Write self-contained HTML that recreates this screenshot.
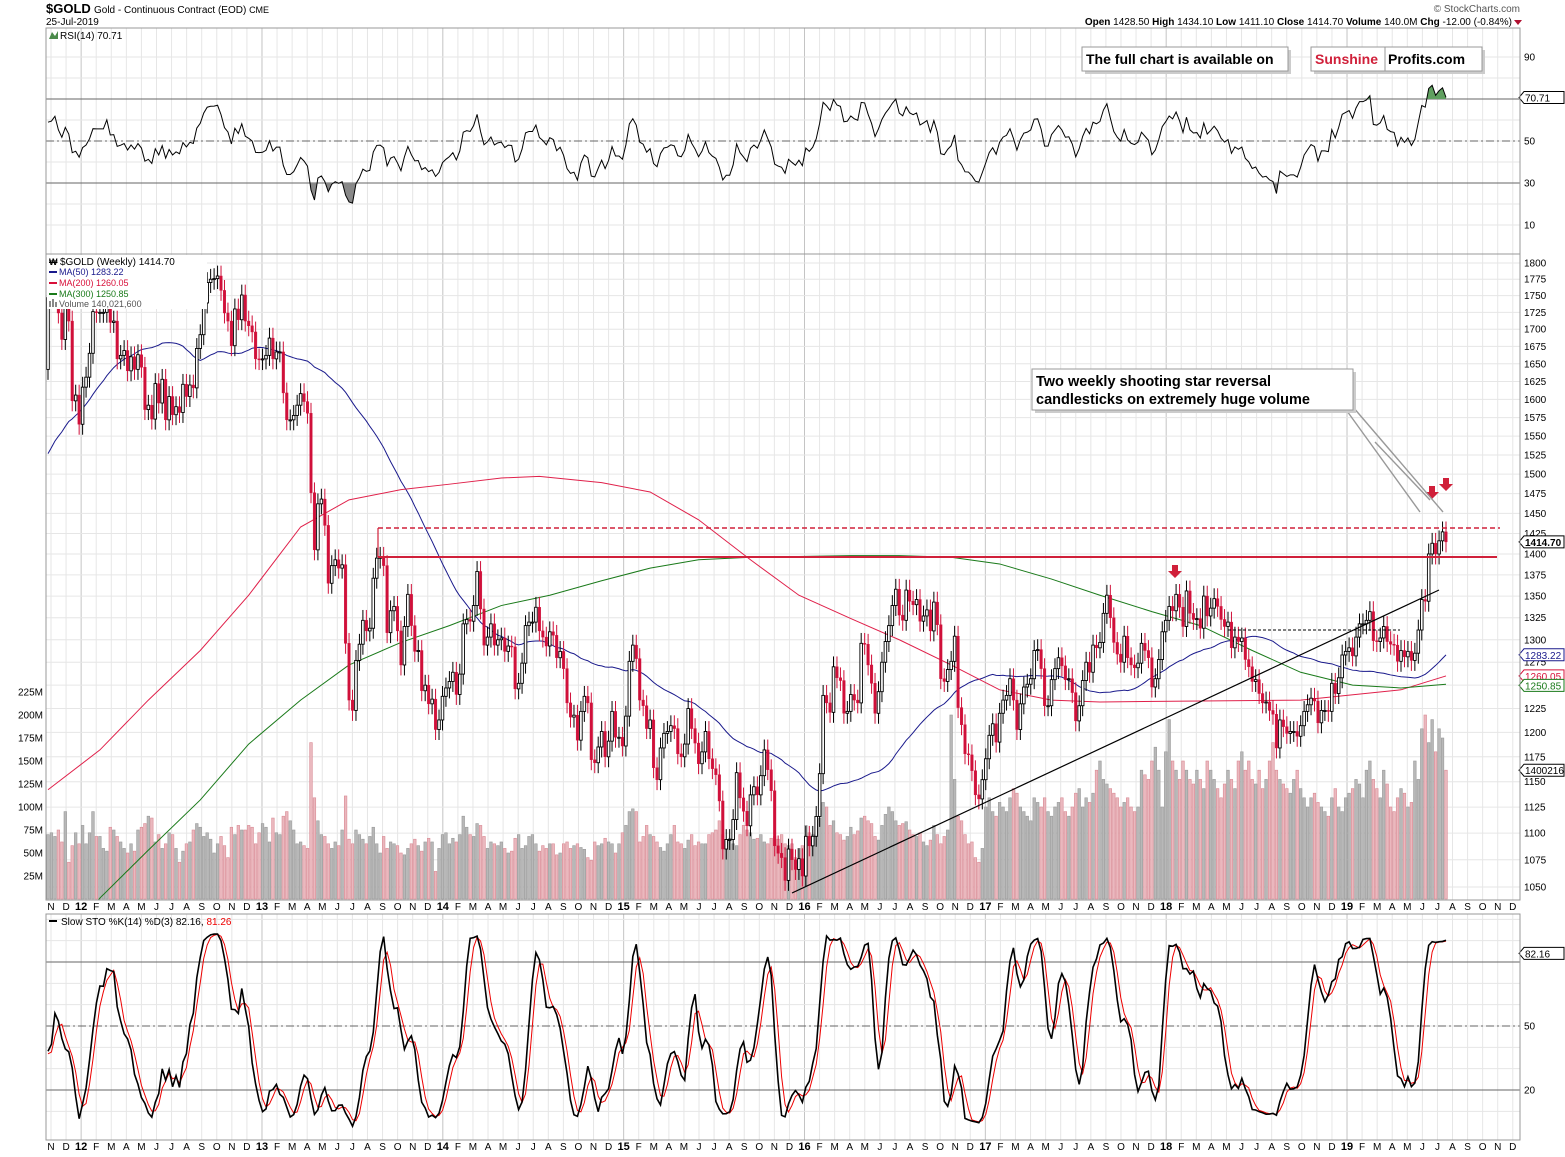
<!DOCTYPE html>
<html><head><meta charset="utf-8"><title>Gold weekly</title>
<style>body{margin:0;background:#fff}svg{display:block;font-family:"Liberation Sans",sans-serif}</style>
</head><body>
<svg id="c" width="1565" height="1157" xmlns="http://www.w3.org/2000/svg">
<defs>
<clipPath id="mainClip"><rect x="46" y="254" width="1474" height="646"/></clipPath>
<clipPath id="rsiClip"><rect x="46" y="28" width="1474" height="226"/></clipPath>
<clipPath id="stoClip"><rect x="46" y="914" width="1474" height="226"/></clipPath>
</defs>
<g>
<text x="46" y="13" font-size="13" font-weight="bold">$GOLD</text>
<text x="94" y="13" font-size="10">Gold - Continuous Contract (EOD) <tspan font-size="9">CME</tspan></text>
<text x="46" y="25" font-size="10">25-Jul-2019</text>
<text x="1520" y="12" font-size="10" fill="#555" text-anchor="end">© StockCharts.com</text>
<text x="1512" y="25" font-size="10" text-anchor="end"><tspan font-weight="bold">Open</tspan> 1428.50 <tspan font-weight="bold">High</tspan> 1434.10 <tspan font-weight="bold">Low</tspan> 1411.10 <tspan font-weight="bold">Close</tspan> 1414.70 <tspan font-weight="bold">Volume</tspan> 140.0M <tspan font-weight="bold">Chg</tspan> -12.00 (-0.84%)</text>
<path d="M1514,20 L1522,20 L1518,25 Z" fill="#b01030"/>
</g>
<g id="grid"></g>
<g id="vol" clip-path="url(#mainClip)"></g>
<g id="ma" clip-path="url(#mainClip)"></g>
<g id="candles" clip-path="url(#mainClip)"></g>
<g id="rsi" clip-path="url(#rsiClip)"></g>
<g id="sto" clip-path="url(#stoClip)"></g>
<g id="annot"></g>
<g id="frames" fill="none" stroke="#999">
<rect x="46" y="28" width="1474" height="226"/>
<rect x="46" y="254" width="1474" height="646"/>
<rect x="46" y="914" width="1474" height="226"/>
</g>
<g font-size="10">
<text x="60" y="39">RSI(14) 70.71</text>
<path d="M49,39 L52,32 L55,36 L58,31 L58,39 Z" fill="#4a8a4a"/>
<rect x="47" y="255" width="160" height="54" fill="#fff"/>
<text x="60" y="265">$GOLD (Weekly) 1414.70</text>
<text x="49" y="265" font-size="9" font-weight="bold">₩</text>
<line x1="49" y1="272" x2="57" y2="272" stroke="#1a1a8c" stroke-width="2"/>
<text x="59" y="275" font-size="9" fill="#1a1a8c">MA(50) 1283.22</text>
<line x1="49" y1="283" x2="57" y2="283" stroke="#d8103a" stroke-width="2"/>
<text x="59" y="286" font-size="9" fill="#d8103a">MA(200) 1260.05</text>
<line x1="49" y1="294" x2="57" y2="294" stroke="#1a7a1a" stroke-width="2"/>
<text x="59" y="297" font-size="9" fill="#1a7a1a">MA(300) 1250.85</text>
<text x="59" y="307" font-size="9" fill="#555">Volume 140,021,600</text>
<rect x="49" y="301" width="2" height="6" fill="#888"/><rect x="52" y="299" width="2" height="8" fill="#888"/><rect x="55" y="302" width="2" height="5" fill="#888"/>
<line x1="49" y1="921" x2="57" y2="921" stroke="#000" stroke-width="2"/>
<text x="61" y="925">Slow STO %K(14) %D(3) 82.16, <tspan fill="#e00">81.26</tspan></text>
</g>
<g>
<rect x="1085" y="50" width="206" height="24" fill="#ccc"/>
<rect x="1082" y="47" width="206" height="24" fill="#fff" stroke="#999"/>
<text x="1086" y="64" font-size="14" font-weight="bold">The full chart is available on</text>
<rect x="1314" y="50" width="171" height="24" fill="#ccc"/>
<rect x="1311" y="47" width="171" height="24" fill="#fff" stroke="#999"/>
<line x1="1385" y1="47" x2="1385" y2="71" stroke="#999"/>
<text x="1315" y="64" font-size="14" font-weight="bold" fill="#d0203a">Sunshine</text>
<text x="1388" y="64" font-size="14" font-weight="bold">Profits.com</text>
</g>
</svg>
<script>
// ---------- DATA ----------
const preCloses=[1397,1366,1352,1362,1406,1386,1378,1380,1421,1369,1361,1342,1341,1349,1360,1388,1409,1429,1421,1419,1430,1429,1474,1486,1504,1556,1491,1493,1513,1536,1543,1530,1538,1500,1484,1542,1594,1601,1628,1663,1743,1852,1828,1876,1856,1813,1637,1620,1636,1682,1642];
const closes2011=[1747,1755,1788,1724,1685,1746,1712,1598,1606,1566];
const closes2012=[1617,1631,1665,1726,1725,1725,1725,1775,1710,1712,1657,1662,1669,1640,1660,1642,1663,1645,1586,1592,1573,1622,1595,1628,1572,1604,1579,1590,1582,1621,1604,1620,1616,1672,1692,1739,1770,1775,1776,1780,1758,1724,1712,1676,1730,1714,1751,1712,1705,1696,1657,1656];
const closes2013=[1657,1662,1687,1657,1667,1667,1609,1572,1572,1578,1592,1608,1597,1581,1476,1405,1462,1468,1435,1365,1386,1393,1383,1387,1296,1234,1223,1277,1295,1322,1310,1313,1371,1395,1396,1386,1308,1333,1338,1310,1272,1315,1352,1316,1287,1288,1244,1250,1230,1235,1203,1213];
const closes2014=[1238,1247,1254,1264,1240,1262,1318,1323,1321,1339,1379,1335,1294,1303,1318,1294,1300,1302,1287,1293,1292,1246,1252,1274,1316,1320,1320,1337,1310,1303,1293,1309,1305,1280,1287,1268,1231,1216,1218,1192,1222,1238,1231,1172,1169,1185,1201,1175,1191,1222,1195,1195];
const closes2015=[1186,1217,1276,1294,1279,1234,1228,1204,1213,1164,1152,1184,1199,1201,1207,1204,1178,1175,1188,1225,1204,1189,1168,1180,1201,1173,1163,1157,1131,1085,1094,1094,1113,1159,1134,1121,1107,1137,1145,1137,1156,1182,1162,1141,1088,1081,1077,1056,1085,1075,1066,1076];
const closes2016=[1060,1097,1088,1097,1116,1158,1239,1231,1221,1270,1258,1255,1220,1222,1240,1234,1231,1296,1295,1272,1252,1220,1243,1275,1298,1316,1339,1358,1328,1322,1357,1344,1340,1346,1321,1327,1334,1310,1343,1317,1257,1254,1267,1276,1304,1226,1208,1178,1177,1161,1137,1133,1152];
const closes2017=[1173,1197,1209,1190,1220,1234,1239,1257,1234,1203,1230,1248,1251,1257,1288,1289,1268,1228,1228,1256,1268,1280,1271,1256,1257,1242,1212,1228,1255,1275,1264,1294,1291,1297,1330,1351,1325,1297,1284,1275,1304,1280,1272,1269,1274,1296,1288,1280,1248,1257,1278,1309];
const closes2018=[1322,1338,1333,1352,1337,1315,1356,1330,1323,1324,1313,1350,1327,1336,1347,1338,1323,1315,1320,1291,1303,1298,1302,1278,1270,1254,1256,1241,1231,1232,1223,1219,1184,1213,1206,1199,1201,1201,1196,1207,1222,1229,1236,1233,1210,1223,1223,1222,1252,1241,1258,1283];
const closes2019=[1287,1291,1282,1303,1318,1318,1322,1332,1299,1298,1302,1315,1298,1295,1294,1276,1288,1281,1287,1277,1285,1311,1346,1344,1400,1413,1400,1416,1427,1414.7];
const volumesM=[70,72,68,75,62,95,40,58,72,60,
80,60,72,95,68,68,55,52,78,75,68,62,55,50,60,52,75,78,82,90,88,62,70,55,60,72,70,55,40,52,60,62,75,82,78,68,72,65,50,60,68,58,45,78,70,80,75,75,80,78,60,72,
82,78,62,88,72,70,90,95,85,75,60,62,58,55,170,110,85,70,68,60,55,62,58,75,112,65,60,75,70,65,60,68,78,60,50,68,55,62,60,58,50,48,55,60,65,58,52,62,66,62,30,55,
70,72,60,66,62,70,90,78,70,68,82,80,68,55,62,60,58,62,55,50,52,66,70,55,58,68,70,60,52,58,55,60,60,48,50,60,62,55,58,60,56,54,45,42,62,58,60,66,62,60,50,60,
72,80,95,98,95,62,68,80,70,68,62,56,52,60,70,80,62,60,55,64,70,58,62,60,60,70,72,75,85,70,62,66,60,58,70,80,75,72,65,66,70,62,60,66,68,65,70,60,58,60,45,55,
58,80,72,70,75,88,105,100,80,85,72,70,64,68,78,70,74,88,90,85,82,68,64,80,92,100,95,85,80,82,84,75,70,68,72,62,58,64,80,70,60,68,75,200,130,90,85,70,60,62,45,40,55,
100,110,95,90,105,100,95,110,120,115,100,95,90,85,110,105,100,110,95,90,100,105,110,95,90,100,115,120,100,110,105,115,140,150,130,125,120,115,110,100,105,110,100,95,100,140,135,130,150,165,140,100,
160,195,150,140,130,150,140,130,125,140,130,120,150,140,130,120,110,125,140,130,120,150,160,140,150,130,125,140,120,130,150,170,140,130,125,120,115,130,140,120,110,100,110,115,105,100,95,90,110,120,100,95,
110,115,120,130,125,110,140,150,130,120,110,140,125,100,95,110,120,115,100,105,150,130,185,200,170,195,160,185,175,140];
const ma200Week=[0,15,29,44,58,73,87,102,116,131,142,160,174,188,203,217,232,246,261,275,290,304,333,362,391,404];
const ma200Val=[1142,1182,1234,1288,1351,1433,1467,1480,1487,1495,1497,1489,1477,1442,1393,1351,1324,1300,1272,1245,1234,1232,1233,1234,1245,1260];
const ma300Week=[0,15,29,44,58,73,87,102,116,131,145,160,174,188,203,217,232,246,261,275,290,304,319,333,348,362,377,391,404];
const ma300Val=[985,1040,1084,1132,1188,1234,1272,1297,1316,1339,1351,1368,1383,1393,1396,1397,1398,1398,1396,1388,1370,1351,1332,1316,1288,1264,1250,1247,1251];
const priceTicks=[1050,1075,1100,1125,1150,1175,1200,1225,1250,1275,1300,1325,1350,1375,1400,1425,1450,1475,1500,1525,1550,1575,1600,1625,1650,1675,1700,1725,1750,1775,1800];
const volTicks=[25,50,75,100,125,150,175,200,225];
const rsiTicks=[90,50,30,10];
const stoTicks=[50,20];
const monthLetters=['J','F','M','A','M','J','J','A','S','O','N','D'];

// ---------- SCALES ----------
const svg=document.getElementById('c');
const NS='http://www.w3.org/2000/svg';
function mk(tag,attrs,parent){const e=document.createElementNS(NS,tag);for(const k in attrs)e.setAttribute(k,attrs[k]);parent.appendChild(e);return e;}
const closes=[].concat(closes2011,closes2012,closes2013,closes2014,closes2015,closes2016,closes2017,closes2018,closes2019);
const all=preCloses.concat(closes);
const P=preCloses.length, n=closes.length;
const X0=48, X1=1446;
const step=(X1-X0)/(n-1);
function xW(i){return X0+i*step;}
function yP(p){return 887-Math.log(p/1050)*1157.6;}
function yV(m){return 899-m*0.92;}
function yR(v){return 141-(v-50)*2.1;}
function yS(v){return 1026-(v-50)*2.133;}
function xM(m){return 51+m*15.07;}

const opens=[],highs=[],lows=[];
for(let j=0;j<all.length;j++){const o=j?all[j-1]:all[0];const c=all[j];opens.push(o);highs.push(Math.max(o,c)*1.009);lows.push(Math.min(o,c)*0.991);}

// ---------- GRID ----------
const grid=document.getElementById('grid');
for(let m=0;m<=97;m++){
  const mo=(10+m)%12, yr=2011+Math.floor((10+m)/12);
  const x=xM(m);
  const isY=mo===0;
  [[28,254],[254,900],[914,1140]].forEach(r=>{
    const gl=mk('line',{x1:x,x2:x,y1:r[0],y2:r[1],stroke:isY?'#c4c4c4':'#e6e6e6'},grid);
    
    
  });
  const lab=isY?String(yr%100).padStart(2,'0'):monthLetters[mo];
  [910,1150].forEach(yy=>{
    const t=mk('text',{x:x,y:yy,'font-size':isY?11:10,'font-weight':isY?'bold':'normal','text-anchor':'middle'},grid);
    t.textContent=lab;
    
    
  });
}
priceTicks.forEach(p=>{
  const y=yP(p);
  const gl=mk('line',{x1:46,x2:1520,y1:y,y2:y,stroke:'#e6e6e6'},grid);
  
  
  const t=mk('text',{x:1524,y:y+3.5,'font-size':10},grid);
  t.textContent=p;
  
  
});
volTicks.forEach(v=>{
  const t=mk('text',{x:43,y:yV(v)+3.5,'font-size':10,'text-anchor':'end'},grid);
  t.textContent=v+'M';
  
  
});
for(let v=10;v<=90;v+=10){const y=yR(v);const gl=mk('line',{x1:46,x2:1520,y1:y,y2:y,stroke:'#e6e6e6'},grid);}
for(let v=10;v<=100;v+=10){const y=yS(v);const gl=mk('line',{x1:46,x2:1520,y1:y,y2:y,stroke:'#e6e6e6'},grid);}
[[70,'none'],[30,'none'],[50,'8,3,2,3']].forEach(a=>{const l=mk('line',{x1:46,x2:1520,y1:yR(a[0]),y2:yR(a[0]),stroke:'#666','stroke-dasharray':a[1]},grid);});
[[80,'none'],[20,'none'],[50,'8,3,2,3']].forEach(a=>{const l=mk('line',{x1:46,x2:1520,y1:yS(a[0]),y2:yS(a[0]),stroke:'#666','stroke-dasharray':a[1]},grid);});
rsiTicks.forEach(v=>{const t=mk('text',{x:1524,y:yR(v)+3.5,'font-size':10},grid);t.textContent=v;});
stoTicks.forEach(v=>{const t=mk('text',{x:1524,y:yS(v)+3.5,'font-size':10},grid);t.textContent=v;});

// ---------- VOLUME ----------
const volG=document.getElementById('vol');
for(let i=0;i<n;i++){
  const v=volumesM[i]||0; const up=closes[i]>=opens[P+i];
  const r=mk('rect',{x:xW(i)-1.3,y:yV(v),width:2.6,height:899-yV(v),fill:up?'#b8b8b8':'#eab8be',stroke:up?'#999':'#d98a94','stroke-width':0.6},volG);
  
  
}

// ---------- MOVING AVERAGES ----------
const maG=document.getElementById('ma');
const ma50=[];
for(let i=0;i<n;i++){let s=0;for(let k=0;k<50;k++)s+=all[P+i-k];ma50.push(s/50);}
const l50=mk('polyline',{points:ma50.map((v,i)=>xW(i)+','+yP(v)).join(' '),fill:'none',stroke:'#1a1a8c','stroke-width':1},maG);


const l200=mk('polyline',{points:ma200Val.map((v,k)=>xW(ma200Week[k])+','+yP(v)).join(' '),fill:'none',stroke:'#e0204a','stroke-width':1},maG);


const l300=mk('polyline',{points:ma300Val.map((v,k)=>xW(ma300Week[k])+','+yP(v)).join(' '),fill:'none',stroke:'#1a7a1a','stroke-width':1},maG);



// ---------- CANDLES ----------
const cG=document.getElementById('candles');
for(let i=0;i<n;i++){
  const j=P+i,o=opens[j],c=closes[i],up=c>=o,x=xW(i);
  const col=up?'#000':'#d0103a';
  const w=mk('line',{x1:x,x2:x,y1:yP(highs[j]),y2:yP(lows[j]),stroke:col,'stroke-width':1},cG);
  
  
  const top=yP(Math.max(o,c)),bot=yP(Math.min(o,c));
  const b=mk('rect',{x:x-1.3,y:top,width:2.6,height:Math.max(1,bot-top),fill:up?'#fff':'#d0103a',stroke:col,'stroke-width':up?0.9:0.4},cG);
  
  
}

// ---------- RSI ----------
const rsi=new Array(all.length).fill(null);
{let ag=0,al=0;for(let j=1;j<=14;j++){const d=all[j]-all[j-1];if(d>0)ag+=d;else al-=d;}ag/=14;al/=14;rsi[14]=100-100/(1+ag/al);
for(let j=15;j<all.length;j++){const d=all[j]-all[j-1];ag=(ag*13+Math.max(d,0))/14;al=(al*13+Math.max(-d,0))/14;rsi[j]=al===0?100:100-100/(1+ag/al);}}
const rG=document.getElementById('rsi');
const rPts=[];for(let i=0;i<n;i++)rPts.push([xW(i),yR(rsi[P+i])]);
const ptsStr=rPts.map(p=>p[0]+','+p[1]).join(' ');
const cp1=mk('clipPath',{id:'rsiHi'},rG);mk('rect',{x:46,y:28,width:1474,height:yR(70)-28},cp1);
const cp2=mk('clipPath',{id:'rsiLo'},rG);mk('rect',{x:46,y:yR(30),width:1474,height:254-yR(30)},cp2);
const fHi=mk('polygon',{points:rPts[0][0]+','+yR(70)+' '+ptsStr+' '+rPts[n-1][0]+','+yR(70),fill:'#5f9f5f','clip-path':'url(#rsiHi)'},rG);


const fLo=mk('polygon',{points:rPts[0][0]+','+yR(30)+' '+ptsStr+' '+rPts[n-1][0]+','+yR(30),fill:'#888','clip-path':'url(#rsiLo)'},rG);


const rl=mk('polyline',{points:ptsStr,fill:'none',stroke:'#000','stroke-width':1},rG);



// ---------- STOCHASTIC ----------
const rawK=new Array(all.length).fill(null);
for(let j=13;j<all.length;j++){let hh=-1e9,ll=1e9;for(let k=0;k<14;k++){hh=Math.max(hh,highs[j-k]);ll=Math.min(ll,lows[j-k]);}rawK[j]=(all[j]-ll)/(hh-ll)*100;}
const slowK=new Array(all.length).fill(null),slowD=new Array(all.length).fill(null);
for(let j=15;j<all.length;j++)slowK[j]=(rawK[j]+rawK[j-1]+rawK[j-2])/3;
for(let j=17;j<all.length;j++)slowD[j]=(slowK[j]+slowK[j-1]+slowK[j-2])/3;
const sG=document.getElementById('sto');
const dl=mk('polyline',{points:closes.map((c,i)=>xW(i)+','+yS(slowD[P+i])).join(' '),fill:'none',stroke:'#e00','stroke-width':1},sG);


const kl=mk('polyline',{points:closes.map((c,i)=>xW(i)+','+yS(slowK[P+i])).join(' '),fill:'none',stroke:'#000','stroke-width':1.6},sG);



// ---------- ANNOTATIONS ----------
const aG=document.getElementById('annot');
function tag(y,txt,col,bold,name){
  const g=mk('g',{},aG);
  
  
  mk('path',{d:`M1519,${y} L1524,${y-6} L1564,${y-6} L1564,${y+6} L1524,${y+6} Z`,fill:'#fff',stroke:col},g);
  const t=mk('text',{x:1525,y:y+4,'font-size':10,fill:col,'font-weight':bold?'bold':'normal'},g);t.textContent=txt;
}
tag(yR(70.71),'70.71','#000',false,'rsi-value-tag');
tag(yP(1414.7),'1414.70','#000',true,'price-value-tag');
tag(yP(1283.22),'1283.22','#1a1a8c',false,'ma50-value-tag');
tag(yP(1260.05),'1260.05','#d8103a',false,'ma200-value-tag');
tag(yP(1250.85)+1,'1250.85','#1a7a1a',false,'ma300-value-tag');
tag(yV(140),'1400216','#000',false,'volume-value-tag');
tag(yS(82.16)-4,'82.16','#000',false,'stochastic-value-tag');

const res1=mk('line',{x1:378,x2:1500,y1:528,y2:528,stroke:'#d0203a','stroke-width':1.4,'stroke-dasharray':'5,3'},aG);


const res2=mk('line',{x1:378,x2:1497,y1:557,y2:557,stroke:'#d0203a','stroke-width':2},aG);


const res3=mk('line',{x1:378,x2:378,y1:528,y2:557,stroke:'#d0203a','stroke-width':1.2},aG);


const tr=mk('line',{x1:792,y1:893,x2:1439,y2:590,stroke:'#000','stroke-width':1.2},aG);


const dsh=mk('line',{x1:1228,y1:630,x2:1400,y2:630,stroke:'#000','stroke-width':1,'stroke-dasharray':'3,2'},aG);


function arrow(x,y,name){
  const a=mk('path',{d:`M${x-3},${y} L${x+3},${y} L${x+3},${y+6} L${x+7},${y+6} L${x},${y+13} L${x-7},${y+6} L${x-3},${y+6} Z`,fill:'#d0203a'},aG);
  
  
}
arrow(1175,565,'arrow-2018-top');arrow(1432,486,'arrow-star-1');arrow(1446,478,'arrow-star-2');
const co=mk('g',{stroke:'#999','stroke-width':1.4,fill:'none'},aG);


mk('line',{x1:1347,y1:411,x2:1420,y2:512},co);
mk('line',{x1:1353,y1:407,x2:1443,y2:512},co);
mk('line',{x1:1375,y1:442,x2:1430,y2:500},co);
const box=mk('g',{},aG);


mk('rect',{x:1035,y:372,width:321,height:41,fill:'#ccc'},box);
mk('rect',{x:1032,y:369,width:321,height:41,fill:'#fff',stroke:'#999'},box);
const t1=mk('text',{x:1036,y:386,'font-size':14.5,'font-weight':'bold'},box);t1.textContent='Two weekly shooting star reversal';
const t2=mk('text',{x:1036,y:404,'font-size':14.5,'font-weight':'bold'},box);t2.textContent='candlesticks on extremely huge volume';
</script>
</body></html>
